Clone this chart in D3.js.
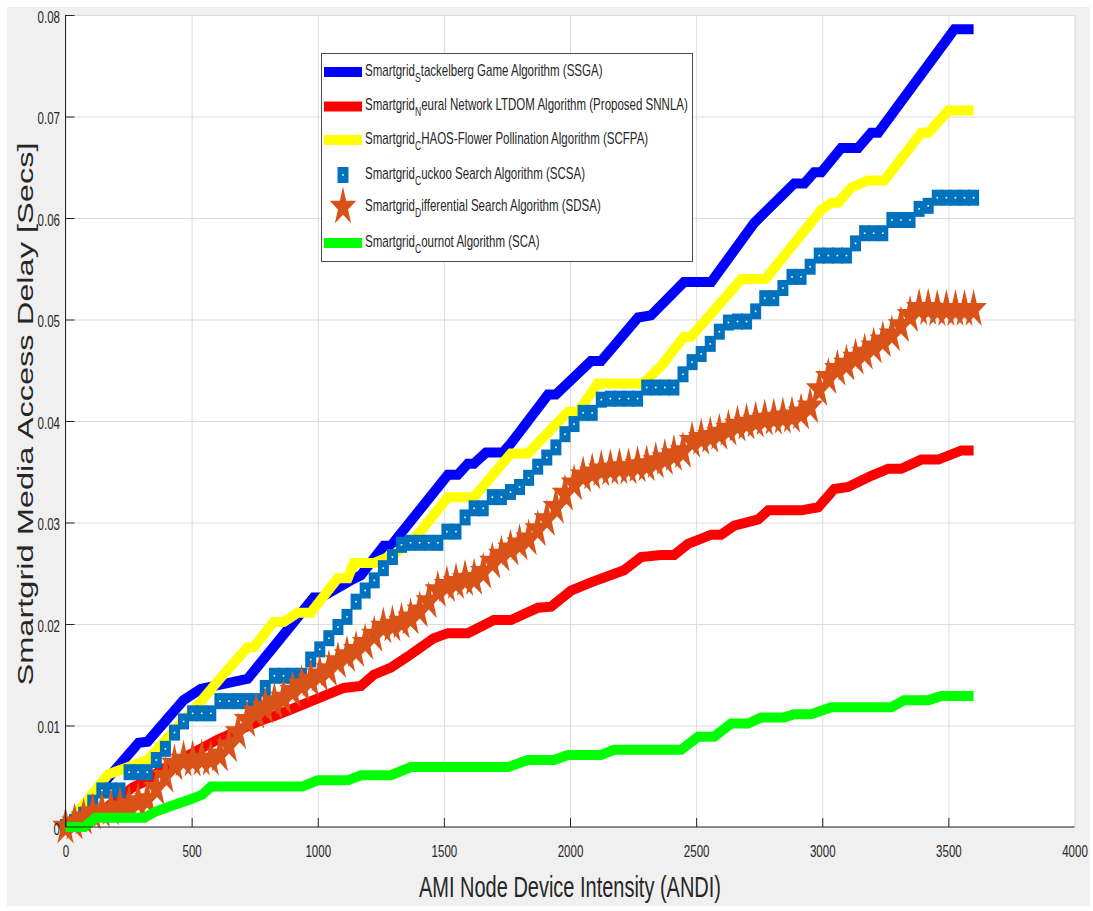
<!DOCTYPE html>
<html lang="en">
<head>
<meta charset="UTF-8">
<title>Smartgrid Media Access Delay</title>
<script src="https://d3js.org/d3.v7.min.js"></script>
<style>
  body { margin: 0; background: #ffffff; font-family: "Liberation Sans", Arial, sans-serif; }
  .grid line { stroke: #dcdcdc; stroke-width: 1; }
  .grid path { display: none; }
  .axis path, .axis line { stroke: #262626; }
  .axis text { fill: #262626; }
</style>
</head>
<body>
<svg width="1093" height="911"></svg>
<script>
  // ---- data ----
  const xTicks = [0, 500, 1000, 1500, 2000, 2500, 3000, 3500, 4000];
  const yTicks = [0, 0.01, 0.02, 0.03, 0.04, 0.05, 0.06, 0.07, 0.08];
  const yTickLabels = ["0", "0.01", "0.02", "0.03", "0.04", "0.05", "0.06", "0.07", "0.08"];

  // SSGA (blue line)
  const ssgaX = [0, 290, 325, 468, 536, 722, 984, 1012, 1131, 1171, 1262, 1290, 1516, 1555, 1595, 1619, 1667, 1734, 1766, 1913, 1944, 2083, 2123, 2270, 2321, 2452, 2560, 2730, 2889, 2929, 2968, 2996, 3075, 3142, 3194, 3222, 3524, 3600];
  const ssgaY = [0, 0.0083, 0.0084, 0.0125, 0.0136, 0.0146, 0.0226, 0.0226, 0.0243, 0.0248, 0.0277, 0.0277, 0.0347, 0.0347, 0.0358, 0.0358, 0.0369, 0.0369, 0.0378, 0.0426, 0.0426, 0.0459, 0.0459, 0.0502, 0.0504, 0.0537, 0.0537, 0.0595, 0.0634, 0.0634, 0.0645, 0.0645, 0.0669, 0.0669, 0.0684, 0.0684, 0.0786, 0.0786];

  // SNNLA (red line)
  const snnlaX = [0, 60, 167, 266, 325, 377, 603, 774, 825, 905, 984, 1103, 1171, 1222, 1290, 1357, 1460, 1516, 1595, 1698, 1766, 1873, 1925, 2004, 2083, 2214, 2282, 2361, 2413, 2468, 2560, 2599, 2651, 2746, 2786, 2917, 2984, 3048, 3103, 3194, 3262, 3313, 3393, 3460, 3552, 3600];
  const snnlaY = [0, 0.0003, 0.002, 0.0039, 0.0046, 0.0056, 0.0086, 0.0105, 0.0109, 0.0117, 0.0125, 0.0137, 0.0139, 0.015, 0.0157, 0.0168, 0.0186, 0.0191, 0.0191, 0.0204, 0.0204, 0.0216, 0.0217, 0.0233, 0.0241, 0.0253, 0.0266, 0.0268, 0.0268, 0.0279, 0.0288, 0.0288, 0.0297, 0.0303, 0.0312, 0.0312, 0.0315, 0.0333, 0.0335, 0.0346, 0.0353, 0.0353, 0.0362, 0.0362, 0.0371, 0.0371];

  // SCFPA (yellow line)
  const scfpaX = [0, 170, 325, 524, 615, 722, 746, 825, 865, 920, 972, 1079, 1119, 1143, 1222, 1300, 1397, 1516, 1619, 1766, 1833, 1992, 2032, 2110, 2290, 2361, 2452, 2480, 2680, 2775, 2996, 3036, 3063, 3115, 3182, 3246, 3393, 3421, 3500, 3600];
  const scfpaY = [0, 0.0052, 0.0066, 0.012, 0.0147, 0.0177, 0.0177, 0.0202, 0.0202, 0.0211, 0.0211, 0.0245, 0.0245, 0.026, 0.026, 0.0268, 0.0288, 0.0325, 0.0325, 0.0368, 0.0368, 0.0409, 0.0409, 0.0437, 0.0437, 0.0454, 0.0483, 0.0483, 0.054, 0.054, 0.0608, 0.0615, 0.0615, 0.063, 0.0637, 0.0637, 0.0684, 0.0684, 0.0706, 0.0706];

  // SCA (green line)
  const scaX = [0, 75, 118, 313, 355, 410, 493, 543, 577, 940, 1000, 1119, 1171, 1290, 1369, 1754, 1833, 1937, 1992, 2123, 2175, 2440, 2508, 2571, 2639, 2706, 2758, 2849, 2889, 2956, 3036, 3274, 3325, 3421, 3472, 3600];
  const scaY = [0, 0, 0.0009, 0.0009, 0.0015, 0.002, 0.0027, 0.0032, 0.004, 0.004, 0.0046, 0.0046, 0.0051, 0.0051, 0.0059, 0.0059, 0.0066, 0.0066, 0.0071, 0.0071, 0.0076, 0.0076, 0.0089, 0.0089, 0.0102, 0.0102, 0.0108, 0.0108, 0.0111, 0.0111, 0.0118, 0.0118, 0.0125, 0.0125, 0.0129, 0.0129];

  // marker series share the sampled ANDI grid (0:36:3600)
  const andiSteps = d3.range(0, 3601, 36);
  // SCSA (blue squares)
  const scsaY = [0, 0.0005, 0.0012, 0.0024, 0.0036, 0.0036, 0.0036, 0.0054, 0.0054, 0.0054,
    0.0066, 0.0077, 0.0093, 0.0104, 0.0112, 0.0112, 0.0112, 0.0124, 0.0124, 0.0124,
    0.0124, 0.0124, 0.0137, 0.0149, 0.0149, 0.0149, 0.0149, 0.0165, 0.0175, 0.0186,
    0.0197, 0.0207, 0.0222, 0.0233, 0.0243, 0.0255, 0.0266, 0.0278, 0.028, 0.028,
    0.028, 0.028, 0.0291, 0.0291, 0.0305, 0.0314, 0.0314, 0.0325, 0.0325, 0.033,
    0.0335, 0.0344, 0.0355, 0.0364, 0.0374, 0.0387, 0.0397, 0.0408, 0.0408, 0.0421,
    0.0422, 0.0422, 0.0422, 0.0422, 0.0433, 0.0433, 0.0433, 0.0433, 0.0446, 0.0458,
    0.0466, 0.0476, 0.0488, 0.0497, 0.0498, 0.0498, 0.0508, 0.0521, 0.0521, 0.0531,
    0.0542, 0.0542, 0.0552, 0.0563, 0.0563, 0.0563, 0.0563, 0.0575, 0.0585, 0.0585,
    0.0585, 0.0598, 0.0598, 0.0598, 0.0609, 0.0612, 0.062, 0.062, 0.062, 0.062, 0.062];
  // SDSA (orange stars)
  const sdsaY = [0, 0.0004, 0.0009, 0.0014, 0.0016, 0.0018, 0.002, 0.0022, 0.0025, 0.0027,
    0.0038, 0.005, 0.0062, 0.0066, 0.0066, 0.0067, 0.0067, 0.0071, 0.008, 0.0093,
    0.0105, 0.0113, 0.0118, 0.0123, 0.0127, 0.0134, 0.014, 0.0145, 0.015, 0.0155,
    0.0163, 0.0169, 0.0174, 0.0181, 0.0189, 0.0197, 0.0199, 0.0202, 0.0206, 0.0213,
    0.0222, 0.0233, 0.0238, 0.0241, 0.0244, 0.0245, 0.0251, 0.0261, 0.0268, 0.0274,
    0.0279, 0.0284, 0.0293, 0.0303, 0.0315, 0.0328, 0.0338, 0.0346, 0.0349, 0.0352,
    0.0353, 0.0354, 0.0354, 0.0356, 0.0357, 0.036, 0.0363, 0.0367, 0.037, 0.038,
    0.0383, 0.0385, 0.0388, 0.0392, 0.0396, 0.0398, 0.04, 0.0402, 0.0403, 0.0404,
    0.0405, 0.0408, 0.0414, 0.0431, 0.0443, 0.0451, 0.0456, 0.0462, 0.0467, 0.0473,
    0.0479, 0.0485, 0.0494, 0.0504, 0.0511, 0.0511, 0.051, 0.051, 0.051, 0.051, 0.051];

  const legendPrefix = "Smartgrid";
  const legendSub = ["S", "N", "C", "C", "D", "C"];
  const legendRest = [
    "tackelberg Game Algorithm (SSGA)",
    "eural Network LTDOM Algorithm (Proposed SNNLA)",
    "HAOS-Flower Pollination Algorithm (SCFPA)",
    "uckoo Search Algorithm (SCSA)",
    "ifferential Search Algorithm (SDSA)",
    "ournot Algorithm (SCA)"
  ];

  // ---- drawing ----
  const SX = 0.72; // the figure is squeezed horizontally
  const svg = d3.select("svg");

  svg.append("rect")
    .attr("x", 7).attr("y", 7)
    .attr("width", 1083).attr("height", 899)
    .attr("fill", "#f0f0f0");

  const x = d3.scaleLinear().domain([0, 4000]).range([65.5, 1074.5]);
  const y = d3.scaleLinear().domain([0, 0.08]).range([827, 15]);

  svg.append("rect")
    .attr("x", x(0)).attr("y", y(0.08))
    .attr("width", x(4000) - x(0))
    .attr("height", y(0) - y(0.08))
    .attr("fill", "#ffffff");

  // grid
  svg.append("g")
    .attr("class", "grid")
    .attr("transform", `translate(0,${y(0)})`)
    .call(d3.axisBottom(x).tickValues(xTicks).tickSize(-(y(0) - y(0.08))).tickFormat(""));
  svg.append("g")
    .attr("class", "grid")
    .attr("transform", `translate(${x(0)},0)`)
    .call(d3.axisLeft(y).tickValues(yTicks).tickSize(-(x(4000) - x(0))).tickFormat(""));

  // series
  const line = d3.line().x(d => x(d[0])).y(d => y(d[1]));
  const lineSeries = [
    { xs: ssgaX, ys: ssgaY, color: "#0000ff" },
    { xs: snnlaX, ys: snnlaY, color: "#ff0000" },
    { xs: scfpaX, ys: scfpaY, color: "#ffff00" }
  ];

  const plot = svg.append("g");

  lineSeries.forEach(s => {
    plot.append("path")
      .datum(d3.zip(s.xs, s.ys))
      .attr("d", line)
      .attr("fill", "none")
      .attr("stroke", s.color)
      .attr("stroke-width", 10)
      .attr("stroke-linejoin", "miter");
  });

  // cuckoo squares
  const sq = plot.append("g").selectAll("g")
    .data(d3.zip(andiSteps, scsaY))
    .join("g")
    .attr("transform", d => `translate(${x(d[0])},${y(d[1])})`);
  sq.append("rect")
    .attr("x", -5.5).attr("y", -8)
    .attr("width", 11).attr("height", 16)
    .attr("fill", "#0072bd");
  sq.append("rect")
    .attr("x", -0.8).attr("y", -0.8)
    .attr("width", 1.6).attr("height", 1.6)
    .attr("fill", "#ffffff");

  // differential stars
  const star = d3.symbol().type(d3.symbolStar).size(470);
  plot.append("g").selectAll("path")
    .data(d3.zip(andiSteps, sdsaY))
    .join("path")
    .attr("d", star)
    .attr("transform", d => `translate(${x(d[0])},${y(d[1])}) scale(0.68,1)`)
    .attr("fill", "#d95319");

  plot.append("path")
    .datum(d3.zip(scaX, scaY))
    .attr("d", line)
    .attr("fill", "none")
    .attr("stroke", "#00ff00")
    .attr("stroke-width", 10)
    .attr("stroke-linejoin", "miter");

  // axes
  const xAxis = svg.append("g")
    .attr("class", "axis")
    .attr("transform", `translate(0,${y(0)})`)
    .call(d3.axisBottom(x).tickValues(xTicks).tickSizeInner(-9).tickSizeOuter(0).tickPadding(18.5).tickFormat(d3.format("d")));
  xAxis.select(".domain").attr("d", `M${x(0)},0H${x(4000)}`);
  xAxis.selectAll(".tick").filter(d => d === 4000).select("line").remove();
  xAxis.selectAll("text")
    .attr("font-size", 16)
    .attr("font-family", "'Liberation Sans', Arial, sans-serif")
    .attr("transform", `scale(${SX},1)`);

  const yAxis = svg.append("g")
    .attr("class", "axis")
    .attr("transform", `translate(${x(0)},0)`)
    .call(d3.axisLeft(y).tickValues(yTicks).tickSizeInner(-9).tickSizeOuter(0).tickPadding(5.5)
      .tickFormat((d, i) => yTickLabels[i]));
  yAxis.select(".domain").attr("d", `M0,${y(0)}V${y(0.08)}`);
  yAxis.selectAll(".tick").filter(d => d === 0).select("line").remove();
  yAxis.selectAll("text")
    .attr("font-size", 16)
    .attr("font-family", "'Liberation Sans', Arial, sans-serif")
    .attr("x", -5.5 / SX)
    .attr("dy", "0.45em")
    .attr("transform", `scale(${SX},1)`);

  // axis titles
  svg.append("text")
    .attr("x", 570).attr("y", 897)
    .attr("text-anchor", "middle")
    .attr("font-size", 30)
    .attr("fill", "#262626")
    .attr("textLength", 302)
    .attr("lengthAdjust", "spacingAndGlyphs")
    .text("AMI Node Device Intensity (ANDI)");

  svg.append("text")
    .attr("transform", `translate(33,414) rotate(-90) scale(1,${SX})`)
    .attr("text-anchor", "middle")
    .attr("font-size", 31)
    .attr("fill", "#262626")
    .attr("textLength", 543)
    .attr("lengthAdjust", "spacingAndGlyphs")
    .text("Smartgrid Media Access Delay [Secs]");

  // legend
  const lg = svg.append("g");
  lg.append("rect")
    .attr("x", 321.5).attr("y", 53.5)
    .attr("width", 371).attr("height", 208)
    .attr("fill", "#ffffff")
    .attr("stroke", "#4d4d4d")
    .attr("stroke-width", 1);

  const rowY = [72, 106.5, 140, 175, 207, 243];
  const kinds = ["line", "line", "line", "square", "star", "line"];
  const colors = ["#0000ff", "#ff0000", "#ffff00", "#0072bd", "#d95319", "#00ff00"];

  rowY.forEach((ry, i) => {
    if (kinds[i] === "line") {
      lg.append("line")
        .attr("x1", 324).attr("x2", 362)
        .attr("y1", ry).attr("y2", ry)
        .attr("stroke", colors[i])
        .attr("stroke-width", 10);
    } else if (kinds[i] === "square") {
      lg.append("rect")
        .attr("x", 337.5).attr("y", ry - 8)
        .attr("width", 11).attr("height", 16)
        .attr("fill", colors[i]);
      lg.append("rect")
        .attr("x", 342.2).attr("y", ry - 0.8)
        .attr("width", 1.6).attr("height", 1.6)
        .attr("fill", "#ffffff");
    } else {
      lg.append("path")
        .attr("d", star)
        .attr("transform", `translate(343,${ry}) scale(0.68,1)`)
        .attr("fill", colors[i]);
    }

    const t = lg.append("text")
      .attr("transform", `translate(365,${ry + 3.5}) scale(${SX},1)`)
      .attr("font-size", 16)
      .attr("fill", "#262626");
    t.append("tspan").text(legendPrefix);
    t.append("tspan").attr("font-size", 12).attr("dy", 6).text(legendSub[i]);
    t.append("tspan").attr("dy", -6).text(legendRest[i]);
  });
</script>
</body>
</html>
